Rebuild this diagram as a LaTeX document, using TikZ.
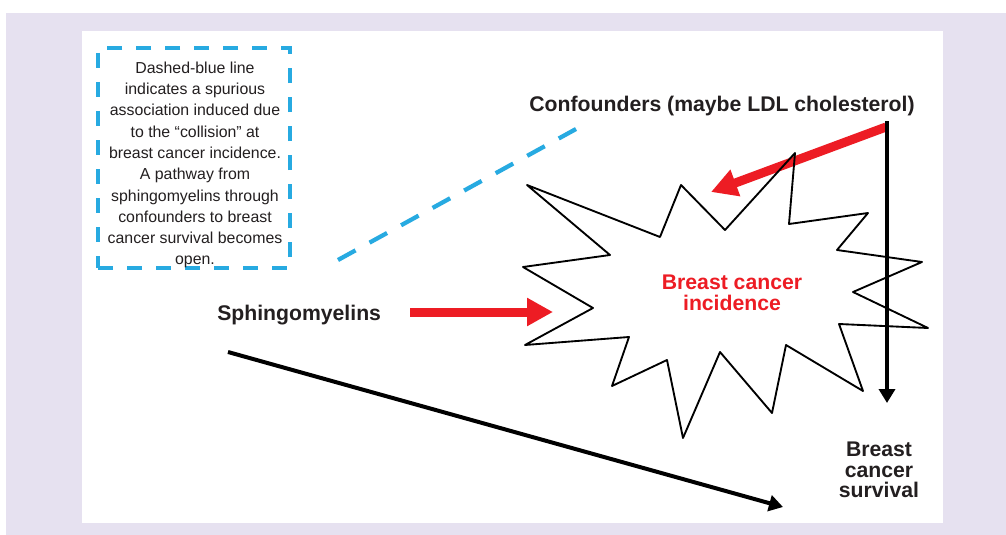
\documentclass[tikz,border=0pt]{standalone}
\usepackage{fontspec}
\setmainfont{Liberation Sans}
\usetikzlibrary{arrows.meta}
\definecolor{lav}{HTML}{E6E1F0}
\definecolor{cblue}{HTML}{27AAE1}
\definecolor{cred}{HTML}{ED1C24}
\definecolor{ink}{HTML}{231F20}
\begin{document}
\begin{tikzpicture}[x=0.75pt,y=-0.75pt,
  notetext/.style={align=center, font=\fontsize{11.9}{15.95}\selectfont, text=ink, inner sep=0pt},
  lbl/.style={font=\fontsize{15.9}{15.6}\selectfont\bfseries, text=ink, inner sep=0pt, align=center},
  redarrow/.style={draw=cred, line width=6.75pt, -{Triangle[length=19.5pt,width=20pt]}},
  blackarrow/.style={draw=black, line width=3pt, -{Triangle[length=10.5pt,width=12pt]}},
  burst/.style={draw=black, line width=1.4pt, line join=round},
  bluedash/.style={draw=cblue, line width=3.2pt, dash pattern=on 15pt off 12pt},
  boxdash/.style={draw=cblue, line width=3pt, dash pattern=on 11.25pt off 10.5pt},
  notebox/.style={boxdash, minimum width=144pt, minimum height=165pt, inner sep=0pt}]
\useasboundingbox (0,0) rectangle (1006,535);
\fill[white] (0,0) rectangle (1006,535);
\fill[lav] (6,13) rectangle (1006,535);
\fill[white] (82,31) rectangle (943,523);

% note box
\node[notebox] (nbox) at (194,158) {};
\node[notetext] (note) at (195,165) {Dashed-blue line\\indicates a spurious\\association induced due\\to the “collision” at\\breast cancer incidence.\\A pathway from\\sphingomyelins through\\confounders to breast\\cancer survival becomes\\open.};

% labels
\node[lbl, anchor=base] (conf) at (722,112) {Confounders (maybe LDL cholesterol)};
\node[lbl, anchor=base west] (sphi) at (217,320) {Sphingomyelins};
\node[lbl, text=cred] (inc) at (732,293) {Breast cancer\\incidence};
\node[lbl] (surv) at (879,470) {Breast\\cancer\\survival};

% coordinates
\coordinate (dA) at (338,260);
\coordinate (dB) at (576,129);
\coordinate (r1s) at (410,312);
\coordinate (r1e) at (553,312);
\coordinate (r2s) at (886,127);
\coordinate (r2e) at (711,192);
\coordinate (vs) at (887,121);
\coordinate (ve) at (887,403);
\coordinate (ds) at (228,352);
\coordinate (de) at (783,507);

% dashed association
\draw[bluedash] (dA) -- (dB);

% red arrows
\draw[redarrow] (r1s) -- (r1e);
\draw[redarrow] (r2s) -- (r2e);

% burst
\draw[burst] (527,185) -- (660,237) -- (681,185) -- (725,230) -- (795,153) -- (789,224) -- (868,213) -- (837,250) -- (922,262) -- (853,292) -- (928,328) -- (839,324) -- (863,391) -- (786,345) -- (772,413) -- (720,352) -- (683,438) -- (667,360) -- (612,386) -- (629,337) -- (525,345) -- (593,308) -- (523,267) -- (610,255) -- cycle;

% black arrows
\draw[blackarrow] (vs) -- (ve);
\draw[blackarrow] (ds) -- (de);
\end{tikzpicture}
\end{document}
